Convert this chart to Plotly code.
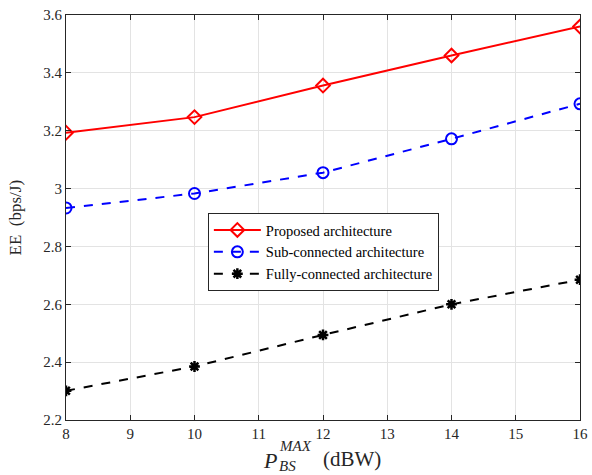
import plotly.graph_objects as go

x_vals = [8, 10, 12, 14, 16]
proposed = [3.193, 3.247, 3.356, 3.460, 3.560]
sub_connected = [2.933, 2.983, 3.055, 3.172, 3.293]
fully_connected = [2.301, 2.385, 2.494, 2.600, 2.685]
names = ["Proposed architecture", "Sub-connected architecture", "Fully-connected architecture"]
x_ticks = [8, 9, 10, 11, 12, 13, 14, 15, 16]
y_ticks = [2.2, 2.4, 2.6, 2.8, 3.0, 3.2, 3.4, 3.6]
y_tick_text = ["2.2", "2.4", "2.6", "2.8", "3", "3.2", "3.4", "3.6"]

FONT = "Liberation Serif"
TXT = "#262626"
fig = go.Figure()
fig.add_trace(go.Scatter(x=x_vals, y=proposed, name=names[0], mode="lines+markers",
                         line=dict(color="#ff0000", width=2),
                         marker=dict(symbol="diamond-open", size=10.5, color="#ff0000", line=dict(width=2))))
fig.add_trace(go.Scatter(x=x_vals, y=sub_connected, name=names[1], mode="lines+markers",
                         line=dict(color="#0000ff", width=2, dash="dash"),
                         marker=dict(symbol="circle-open", size=11, color="#0000ff", line=dict(width=2))))
fig.add_trace(go.Scatter(x=x_vals, y=fully_connected, name=names[2], mode="lines+markers",
                         line=dict(color="#000000", width=2, dash="dash"),
                         marker=dict(symbol="asterisk-open", size=9, color="#000000", line=dict(width=2.5))))

axis_common = dict(showline=True, linecolor=TXT, linewidth=1, mirror="ticks",
                   ticks="inside", ticklen=5, tickcolor=TXT, automargin=False,
                   showgrid=True, gridcolor="#e3e3e3", gridwidth=1, zeroline=False,
                   tickfont=dict(family=FONT, size=15, color=TXT))
fig.update_xaxes(range=[8, 16], tickvals=x_ticks, **axis_common)
fig.update_yaxes(range=[2.2, 3.6], tickvals=y_ticks, ticktext=y_tick_text, **axis_common)

# y-axis label
fig.add_annotation(xref="paper", yref="paper", x=0, y=0.5, xshift=-51, xanchor="center", yanchor="middle",
                   text="EE  (bps/J)", textangle=-90, showarrow=False,
                   font=dict(family=FONT, size=17, color=TXT))
# x-axis label with stacked sub/superscript
fig.add_annotation(xref="paper", yref="paper", x=0, y=0, xshift=195, yshift=-26, xanchor="left", yanchor="top",
                   text="<i>P</i>", showarrow=False, font=dict(family=FONT, size=22, color=TXT))
fig.add_annotation(xref="paper", yref="paper", x=0, y=0, xshift=211, yshift=-36, xanchor="left", yanchor="top",
                   text="<i>BS</i>", showarrow=False, font=dict(family=FONT, size=15, color=TXT))
fig.add_annotation(xref="paper", yref="paper", x=0, y=0, xshift=211, yshift=-16, xanchor="left", yanchor="top",
                   text="<i>MAX</i>", showarrow=False, font=dict(family=FONT, size=15, color=TXT))
fig.add_annotation(xref="paper", yref="paper", x=0, y=0, xshift=255, yshift=-25, xanchor="left", yanchor="top",
                   text="(dBW)", showarrow=False, font=dict(family=FONT, size=21, color=TXT))

fig.update_layout(width=592, height=475, margin=dict(l=66, r=12, t=15, b=55),
                  paper_bgcolor="white", plot_bgcolor="white",
                  legend=dict(x=0.276, y=0.511, xanchor="left", yanchor="top",
                              bgcolor="white", bordercolor=TXT, borderwidth=1,
                              font=dict(family=FONT, size=14.5, color="#000000"),
                              tracegroupgap=0, itemwidth=47),
                  showlegend=True)
fig.write_html("out.html", config={"displayModeBar": False},
               post_script="document.body.style.margin='0px';")
